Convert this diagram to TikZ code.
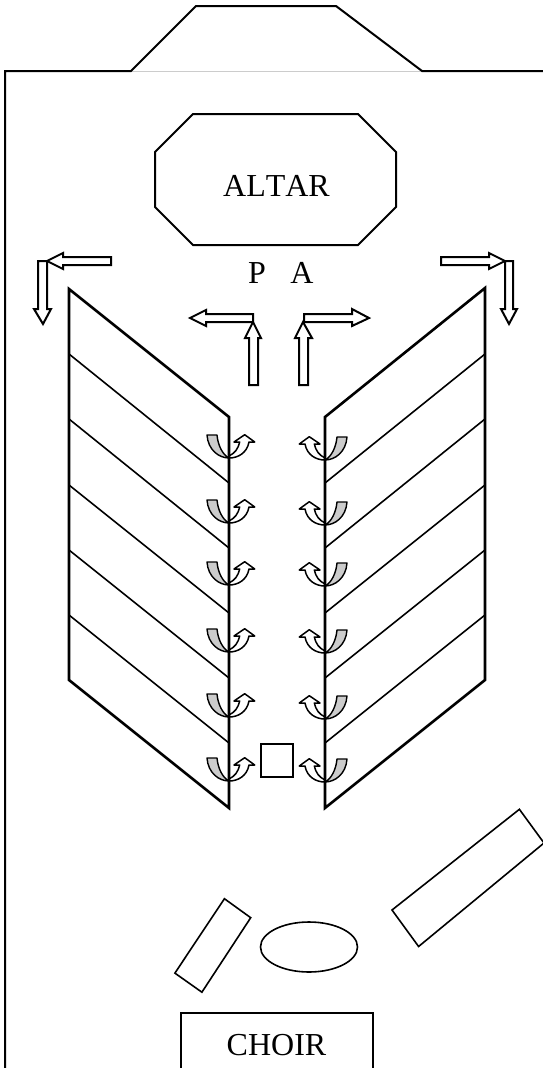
\documentclass[tikz,border=0pt]{standalone}
\usepackage{fontspec}
\setmainfont[Kerning=Off]{Liberation Serif}
\tikzset{
  wall/.style={draw=black,line width=2pt,line join=miter},
  bank/.style={draw=black,line width=2.6pt,line join=miter},
  seat/.style={draw=black,line width=1.6pt},
  blockarrow/.style={draw=black,fill=white,line width=2pt,line join=miter},
  thin outline/.style={draw=black,fill=white,line width=1.5pt,line join=round},
  cup/.style={draw=black,fill=cupgray,line width=1.4pt,line join=round},
  label/.style={inner sep=0pt,anchor=base,font=\fontsize{32}{38}\selectfont},
  turn/.pic={
    \path[cup] (-22,-23) -- (-12,-23) .. controls (-11,-12) and (-6,-3) .. (0,0)
       .. controls (-10,0) and (-21,-8) .. (-22,-23) -- cycle;
    \path[thin outline] (0,-2) .. controls (6,-5) and (9,-9) .. (10.7,-16) -- (5,-16)
       -- (15.7,-23.3) -- (25.7,-16) -- (20,-16) .. controls (18,-5) and (9,0) .. (0,0);
  }
}
\definecolor{cupgray}{HTML}{CCCCCC}
\begin{document}
\begin{tikzpicture}[x=1pt,y=-1pt]
\useasboundingbox (0,0) rectangle (543,1068);
\fill[white] (0,0) rectangle (543,1068);
% building outline
\draw[line width=1pt,draw=black!20] (131,71) -- (422,71);
\draw[wall] (5,1068) -- (5,71) -- (131,71) -- (196,6) -- (336,6) -- (422,71) -- (543,71);
% altar
\path[wall] (193,114) -- (358,114) -- (396,152) -- (396,207) -- (358,245) -- (193,245) -- (155,207) -- (155,152) -- cycle;
\node[label] (altar) at (276.5,196) {ALTAR};
\node[label] (p) at (257,283) {P};
\node[label] (a) at (302,283) {A};
% kneel/turn marks
\foreach \t in {435,500,562,629,694,758}
  \pic at (229,\t+23) {turn};
\foreach \t in {437,502,563,630,696,759}
  \pic[xscale=-1] at (325,\t+23) {turn};
% left bank
\draw[bank] (69,289) -- (229,417) -- (229,808) -- (69,680) -- cycle;
\draw[seat] (69,354) -- (229,483);
\draw[seat] (69,419) -- (229,548);
\draw[seat] (69,485) -- (229,613);
\draw[seat] (69,550) -- (229,678);
\draw[seat] (69,615) -- (229,743);
% right bank
\draw[bank] (485,288) -- (325,417) -- (325,808) -- (485,680) -- cycle;
\draw[seat] (485,354) -- (325,483);
\draw[seat] (485,419) -- (325,548);
\draw[seat] (485,485) -- (325,613);
\draw[seat] (485,550) -- (325,678);
\draw[seat] (485,615) -- (325,743);
% block arrows, left
\path[blockarrow] (38,261) -- (47,261) -- (47,309) -- (51,309) -- (43,324) -- (34,309) -- (38,309) -- cycle;
\path[blockarrow] (111,257) -- (63,257) -- (63,253) -- (47,261) -- (63,269) -- (63,265) -- (111,265) -- cycle;
\path[blockarrow] (253,314) -- (206,314) -- (206,310) -- (190,318) -- (206,326) -- (206,322) -- (253,322) -- cycle;
\path[blockarrow] (249,385) -- (249,338) -- (245,338) -- (253,322) -- (261,338) -- (258,338) -- (258,385) -- cycle;
% block arrows, right
\path[blockarrow] (505,261) -- (513,261) -- (513,309) -- (517,309) -- (509,324) -- (501,309) -- (505,309) -- cycle;
\path[blockarrow] (441,257) -- (489,257) -- (489,253) -- (505,261) -- (489,269) -- (489,265) -- (441,265) -- cycle;
\path[blockarrow] (304,314) -- (352,314) -- (352,309) -- (369,318) -- (352,326) -- (352,322) -- (304,322) -- cycle;
\path[blockarrow] (299,385) -- (299,338) -- (295,338) -- (303,322) -- (312,338) -- (308,338) -- (308,385) -- cycle;
% square
\draw[line width=2pt] (261,744) rectangle (293,777);
% lower furniture
\draw[line width=1.6pt,line join=miter] (224.4,898.7) -- (250.7,917.7) -- (201.9,992.2) -- (174.9,973.1) -- cycle;
\draw[line width=1.6pt] (309,947) ellipse [x radius=48.5,y radius=25];
\draw[line width=1.6pt,line join=miter] (519.4,809.3) -- (544,843) -- (418.6,946.5) -- (392,910) -- cycle;
% choir
\draw[wall] (180.7,1070) -- (180.7,1013) -- (373,1013) -- (373,1070);
\node[label] (choir) at (276.5,1055.5) {CHOIR};
\end{tikzpicture}
\end{document}
